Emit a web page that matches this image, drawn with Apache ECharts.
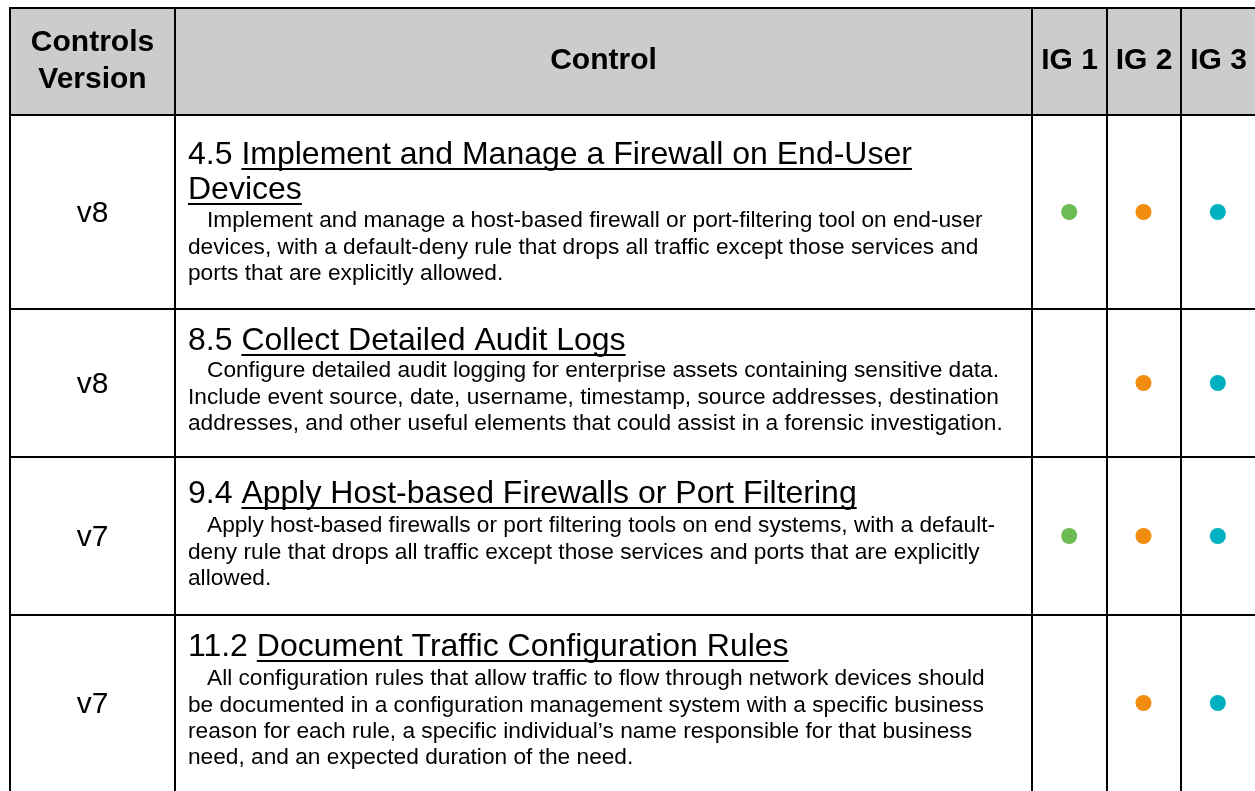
<!DOCTYPE html>
<html><head><meta charset="utf-8">
<script src="https://cdn.jsdelivr.net/npm/echarts@6/dist/echarts.min.js"></script>
<style>html,body{margin:0;padding:0;background:#fff}#c{width:1255px;height:791px}</style>
</head><body><div id="c"></div>
<script>
// ---------- data ----------
const headerVersion = ['Controls', 'Version'];
const headerControl = 'Control';
const igLabels = ['IG 1', 'IG 2', 'IG 3'];
const versions = ['v8', 'v8', 'v7', 'v7'];
const controlIds = ['4.5', '8.5', '9.4', '11.2'];
const controlTitleLines = [
  ['Implement and Manage a Firewall on End-User', 'Devices'],
  ['Collect Detailed Audit Logs'],
  ['Apply Host-based Firewalls or Port Filtering'],
  ['Document Traffic Configuration Rules']
];
const controlDescLines = [
  ['Implement and manage a host-based firewall or port-filtering tool on end-user',
   'devices, with a default-deny rule that drops all traffic except those services and',
   'ports that are explicitly allowed.'],
  ['Configure detailed audit logging for enterprise assets containing sensitive data.',
   'Include event source, date, username, timestamp, source addresses, destination',
   'addresses, and other useful elements that could assist in a forensic investigation.'],
  ['Apply host-based firewalls or port filtering tools on end systems, with a default-',
   'deny rule that drops all traffic except those services and ports that are explicitly',
   'allowed.'],
  ['All configuration rules that allow traffic to flow through network devices should',
   'be documented in a configuration management system with a specific business',
   'reason for each rule, a specific individual\u2019s name responsible for that business',
   'need, and an expected duration of the need.']
];
const ig1 = [1, 0, 1, 0];
const ig2 = [1, 1, 1, 1];
const ig3 = [1, 1, 1, 1];

// ---------- layout / style ----------
const igColors = ['#6CBB55', '#F28C0F', '#00B0C0'];
const colX = [10, 175, 1032, 1107, 1181, 1256];
const rowY = [8, 115, 309, 457, 615, 791];
const titleFirstY = [155, 341, 494, 647];
const bodyFirstY = [221, 371, 526, 679];
const FONT = '"Liberation Sans", Arial, sans-serif';
const titleSize = 32, bodySize = 22.7, headSize = 30, verSize = 30;
const titleGap = 35, bodyGap = 26.4;
const textX = 188, indentX = 207;

const ctx = document.createElement('canvas').getContext('2d');
function tw(s, size) { ctx.font = size + 'px ' + FONT; return ctx.measureText(s).width; }

function txt(s, x, y, size, opts) {
  opts = opts || {};
  const font = (opts.bold ? 'bold ' : '') + size + 'px ' + FONT;
  return { type: 'text', silent: true, z: 10,
    style: { text: s, x: x, y: y, font: font, fill: '#000',
      textAlign: opts.align || 'left', textVerticalAlign: 'middle',
      align: opts.align || 'left', verticalAlign: 'middle' } };
}
function line(x1, y1, x2, y2, w) {
  return { type: 'line', silent: true, z: 20,
    shape: { x1: x1, y1: y1, x2: x2, y2: y2 }, style: { stroke: '#000', lineWidth: w || 2 } };
}

const g = [];
g.push({ type: 'rect', silent: true, z: 1, shape: { x: colX[0], y: rowY[0], width: colX[5] - colX[0], height: rowY[1] - rowY[0] }, style: { fill: '#CCCCCC' } });
g.push(txt(headerVersion[0], (colX[0] + colX[1]) / 2, 43, headSize, { bold: true, align: 'center' }));
g.push(txt(headerVersion[1], (colX[0] + colX[1]) / 2, 80, headSize, { bold: true, align: 'center' }));
g.push(txt(headerControl, (colX[1] + colX[2]) / 2, 61, headSize, { bold: true, align: 'center' }));
igLabels.forEach((l, i) => g.push(txt(l, (colX[2 + i] + colX[3 + i]) / 2, 61, headSize, { bold: true, align: 'center' })));

for (let r = 0; r < versions.length; r++) {
  const top = rowY[r + 1], bot = rowY[r + 2];
  g.push(txt(versions[r], (colX[0] + colX[1]) / 2, (top + bot) / 2 + 2, verSize, { align: 'center' }));
  let y = titleFirstY[r];
  controlTitleLines[r].forEach((tl, k) => {
    let x = textX;
    if (k === 0) {
      const pre = controlIds[r] + ' ';
      g.push(txt(pre, x, y, titleSize));
      x += tw(pre, titleSize);
    }
    g.push(txt(tl, x, y, titleSize));
    const w = tw(tl, titleSize);
    g.push(line(x, y + 14, x + w, y + 14, 2));
    y += titleGap;
  });
  y = bodyFirstY[r];
  controlDescLines[r].forEach((dl, k) => {
    g.push(txt(dl, k === 0 ? indentX : textX, y, bodySize));
    y += bodyGap;
  });
}
for (let i = 0; i < rowY.length - 1; i++) g.push(line(colX[0], rowY[i], colX[5], rowY[i], 2));
for (let i = 0; i < colX.length; i++) g.push(line(colX[i], rowY[0] - 1, colX[i], rowY[5], 2));

const grids = [], xAxes = [], yAxes = [], series = [];
const flags = [ig1, ig2, ig3];
for (let r = 0; r < versions.length; r++) {
  grids.push({ left: colX[2], width: colX[5] - colX[2], top: rowY[r + 1], height: rowY[r + 2] - rowY[r + 1] });
  xAxes.push({ type: 'category', gridIndex: r, data: igLabels, show: false });
  yAxes.push({ type: 'category', gridIndex: r, data: [controlIds[r]], show: false });
  const data = [];
  igLabels.forEach((l, i) => { if (flags[i][r]) data.push({ value: [l, controlIds[r]], itemStyle: { color: igColors[i], opacity: 1 } }); });
  series.push({ type: 'scatter', xAxisIndex: r, yAxisIndex: r, symbol: 'circle', symbolSize: 16, silent: true, z: 30,
    itemStyle: { opacity: 1 }, data: data });
}

const chart = echarts.init(document.getElementById('c'), null, { renderer: 'canvas' });
chart.setOption({
  animation: false,
  backgroundColor: '#fff',
  grid: grids, xAxis: xAxes, yAxis: yAxes, series: series,
  graphic: { elements: g }
});
</script>
</body></html>
